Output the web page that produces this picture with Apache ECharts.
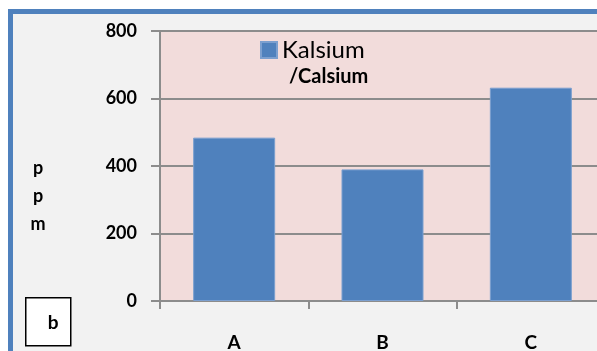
<!DOCTYPE html>
<html>
<head>
<meta charset="utf-8">
<script src="https://cdn.jsdelivr.net/npm/echarts@6/dist/echarts.min.js"></script>
<style>
html,body{margin:0;padding:0;background:#fff;overflow:hidden;}
#c{width:597px;height:351px;}
</style>
</head>
<body>
<div id="c"></div>
<script>
var categories = ['A', 'B', 'C'];
var kalsiumValues = [484, 390, 632];
var yTicks = [0, 200, 400, 600, 800];
var seriesName = 'Kalsium';
var seriesNameSub = '/Calsium';
var yAxisName = ['p', 'p', 'm'];
var panelLabel = 'b';

var chart = echarts.init(document.getElementById('c'), null, {renderer: 'canvas'});
var option = {
  animation: false,
  backgroundColor: '#ffffff',
  graphic: [
    {type: 'rect', z: -10, shape: {x: 10.5, y: 11.5, width: 660, height: 360},
     style: {fill: '#f2f2f2', stroke: '#4f81bd', lineWidth: 5}},
    {type: 'group', left: 25, top: 297, z: 10, children: [
      {type: 'rect', shape: {x: 0.5, y: 0.5, width: 45, height: 48},
       style: {fill: '#ffffff', stroke: '#000000', lineWidth: 1.5}},
      {type: 'text', x: 28, y: 26, style: {text: panelLabel, fill: '#000', fontFamily: 'Lato', fontWeight: 'bold', fontSize: 19, align: 'center', verticalAlign: 'middle'}}
    ]},
    {type: 'text', x: 38, y: 196, style: {text: yAxisName.join('\n'), fill: '#000', fontFamily: 'Lato', fontWeight: 'bold', fontSize: 18, lineHeight: 28, align: 'center', verticalAlign: 'middle'}}
  ],
  title: {
    text: seriesNameSub, left: 284, top: 62,
    textStyle: {fontFamily: 'Lato', fontWeight: 'bold', fontSize: 20, color: '#000'}
  },
  legend: {
    data: [seriesName], left: 260, top: 38, padding: 0, icon: 'rect', itemWidth: 16, itemHeight: 16, itemGap: 7,
    textStyle: {fontFamily: 'Lato', fontSize: 24, color: '#000', lineHeight: 24}
  },
  grid: {left: 160, top: 31, width: 445, height: 270, show: true, backgroundColor: '#f2dcdb', borderWidth: 0,
         outerBoundsMode: 'none', containLabel: false},
  xAxis: {
    type: 'category', data: categories,
    axisLine: {lineStyle: {color: '#8c8c8c', width: 2}},
    axisTick: {show: true, length: 8, lineStyle: {color: '#8c8c8c', width: 2}},
    axisLabel: {margin: 32, fontFamily: 'Lato', fontWeight: 'bold', fontSize: 19, color: '#000'}
  },
  yAxis: {
    type: 'value', min: yTicks[0], max: yTicks[yTicks.length - 1], interval: yTicks[1] - yTicks[0],
    axisLine: {show: true, lineStyle: {color: '#8c8c8c', width: 2}},
    axisTick: {show: true, length: 9, lineStyle: {color: '#8c8c8c', width: 2}},
    splitLine: {lineStyle: {color: '#8c8c8c', width: 2}},
    axisLabel: {margin: 23, fontFamily: 'Lato', fontWeight: 'bold', fontSize: 18, color: '#000'}
  },
  series: [{
    name: seriesName, type: 'bar', data: kalsiumValues, barWidth: 82,
    itemStyle: {color: '#4f81bd', borderColor: '#7b9fcf', borderWidth: 1}
  }]
};
chart.setOption(option);
</script>
</body>
</html>
